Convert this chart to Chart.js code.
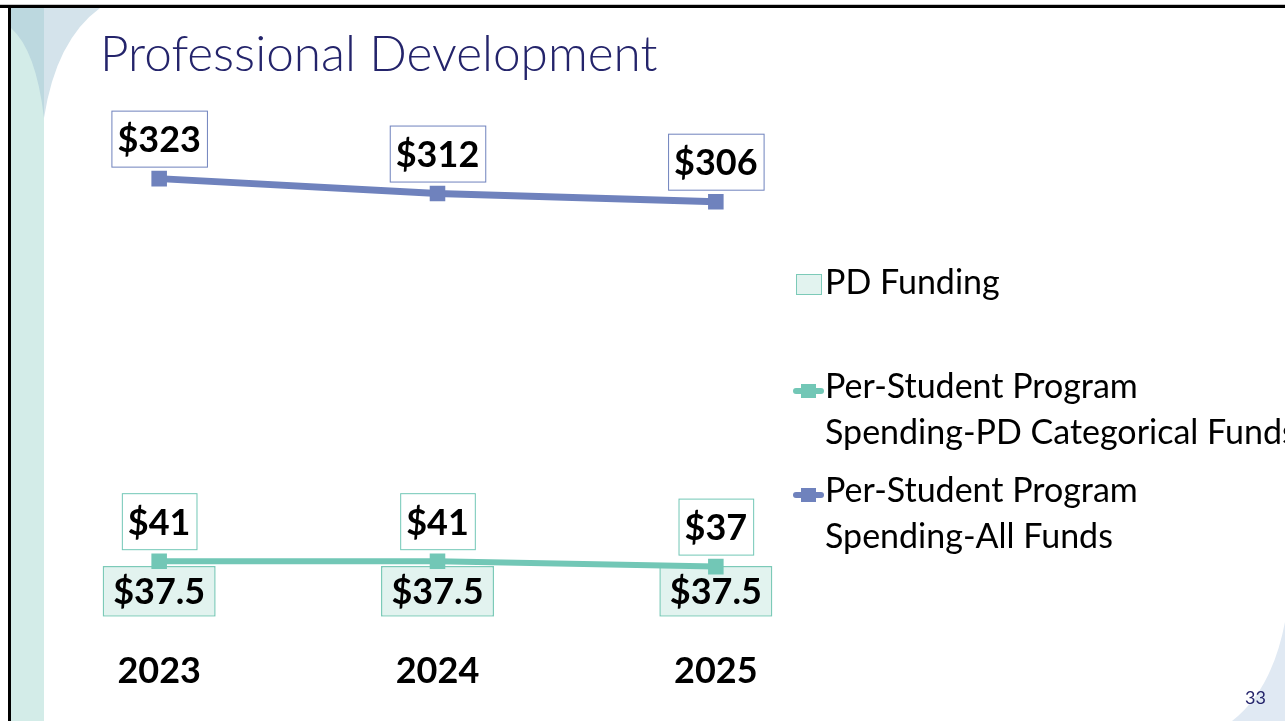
<!DOCTYPE html>
<html>
<head>
<meta charset="utf-8">
<title>Professional Development</title>
<script src="https://cdn.jsdelivr.net/npm/chart.js@4.4.1/dist/chart.umd.min.js"></script>
<style>
  html, body { margin: 0; padding: 0; background: #fff; }
  #slide { position: relative; width: 1285px; height: 721px; overflow: hidden; background: #fff; font-family: Lato, 'Open Sans', sans-serif; }
  #deco { position: absolute; left: 0; top: 0; }
  #title { position: absolute; left: 100px; top: 22px; margin: 0; font-weight: 300; font-size: 49.5px; color: #24246b; white-space: nowrap; }
  #chartCanvas { position: absolute; left: 0; top: 0; }
  #legend { position: absolute; left: 793px; top: 258px; width: 520px; }
  .legend-item { position: relative; height: 104px; padding-left: 32px; font-size: 34px; line-height: 46px; color: #000; white-space: pre; }
  .key-box { position: absolute; left: 3px; top: 16px; width: 24px; height: 19px; border: 1.5px solid #7ccab8; background: #e2f3ef; }
  .key-line { position: absolute; left: 0; top: 26px; width: 31px; height: 6px; border-radius: 3px; }
  .key-line span { position: absolute; left: 8px; top: -4px; width: 15px; height: 14px; }
  #pageNum { position: absolute; left: 1245px; top: 686px; font-size: 18px; color: #24246b; }
</style>
</head>
<body>
<div id="slide">
  <svg id="deco" width="1285" height="721">
    <rect x="0" y="4" width="1285" height="1" fill="#c8c8c8"></rect>
    <rect x="0" y="5" width="1285" height="3" fill="#000"></rect>
    <rect x="8" y="5" width="3" height="716" fill="#000"></rect>
    <rect x="11" y="8" width="33" height="713" fill="#d3ece8"></rect>
    <path d="M11,8 L44,8 L44,118 Q36,50 11,28 Z" fill="#bcd8df"></path>
    <path d="M44,8 L100,8 Q56,40 44,118 Z" fill="#d4e3eb"></path>
    <path d="M1285,622 Q1272,690 1232,721 L1285,721 Z" fill="#e0e9f3"></path>
  </svg>
  <h1 id="title">Professional Development</h1>
  <canvas id="chartCanvas" width="1285" height="761"></canvas>
  <div id="legend"></div>
  <div id="pageNum">33</div>
</div>
<script>
const years = ['2023', '2024', '2025'];
const pdFunding = [37.5, 37.5, 37.5];
const pdCategoricalSpending = [41, 41, 37];
const allFundsSpending = [323, 312, 306];
const seriesLabels = [
  'PD Funding',
  'Per-Student Program\nSpending-PD Categorical Funds',
  'Per-Student Program\nSpending-All Funds',
];

const tealFill = '#e2f3ef';
const teal = '#72c7b6';
const blue = '#6f82bd';

// draws the boxed "$" labels above the line points and inside the bars
const boxLabels = {
  id: 'boxLabels',
  afterDatasetsDraw(chart) {
    const ctx = chart.ctx;
    ctx.save();
    ctx.font = 'bold 36px Lato';
    ctx.textAlign = 'center';
    ctx.textBaseline = 'middle';
    chart.data.datasets.forEach((ds, i) => {
      const meta = chart.getDatasetMeta(i);
      meta.data.forEach((el, j) => {
        const text = '$' + ds.data[j];
        if (ds.type === 'bar') {
          ctx.fillStyle = '#000';
          ctx.fillText(text, el.x, (el.y + el.base) / 2 + 1);
          return;
        }
        const w = ctx.measureText(text).width + 12;
        const h = 56;
        const bottom = el.y - 12;
        ctx.fillStyle = '#fff';
        ctx.fillRect(el.x - w / 2, bottom - h, w, h);
        ctx.strokeStyle = ds.borderColor;
        ctx.lineWidth = 1;
        ctx.strokeRect(el.x - w / 2 + 0.5, bottom - h + 0.5, w, h);
        ctx.fillStyle = '#000';
        ctx.fillText(text, el.x, bottom - h / 2 + 2);
      });
    });
    ctx.restore();
  },
};

function renderLegend(chart) {
  const legend = document.getElementById('legend');
  legend.innerHTML = chart.data.datasets
    .map((ds) => {
      const key = ds.type === 'bar'
        ? '<div class="key-box"></div>'
        : `<div class="key-line" style="background:${ds.borderColor}"><span style="background:${ds.borderColor}"></span></div>`;
      return `<div class="legend-item">${key}${ds.label}</div>`;
    })
    .join('');
}

const chart = new Chart(document.getElementById('chartCanvas'), {
  data: {
    labels: years,
    datasets: [
      {
        type: 'bar',
        label: seriesLabels[0],
        data: pdFunding,
        backgroundColor: tealFill,
        borderColor: '#7ccab8',
        borderWidth: 1.5,
        borderSkipped: false,
        barPercentage: 0.406,
        categoryPercentage: 1,
        order: 3,
      },
      {
        type: 'line',
        label: seriesLabels[1],
        data: pdCategoricalSpending,
        borderColor: teal,
        backgroundColor: teal,
        borderWidth: 6,
        pointStyle: 'rect',
        pointRadius: 11,
        pointBorderWidth: 0,
        pointBackgroundColor: teal,
        order: 1,
      },
      {
        type: 'line',
        label: seriesLabels[2],
        data: allFundsSpending,
        borderColor: blue,
        backgroundColor: blue,
        borderWidth: 7,
        pointStyle: 'rect',
        pointRadius: 11,
        pointBorderWidth: 0,
        pointBackgroundColor: blue,
        order: 2,
      },
    ],
  },
  options: {
    responsive: false,
    animation: false,
    devicePixelRatio: 1,
    layout: { padding: { left: 20, right: 430, top: 142, bottom: 35 } },
    plugins: {
      legend: { display: false },
      tooltip: { enabled: false },
    },
    scales: {
      x: {
        grid: { display: false, drawTicks: false },
        border: { display: false },
        ticks: {
          padding: 33,
          color: '#000',
          font: { family: 'Lato', weight: 'bold', size: 36 },
        },
      },
      y: {
        display: false,
        min: 0,
        max: 350,
      },
    },
  },
  plugins: [boxLabels],
});

renderLegend(chart);
</script>
</body>
</html>
